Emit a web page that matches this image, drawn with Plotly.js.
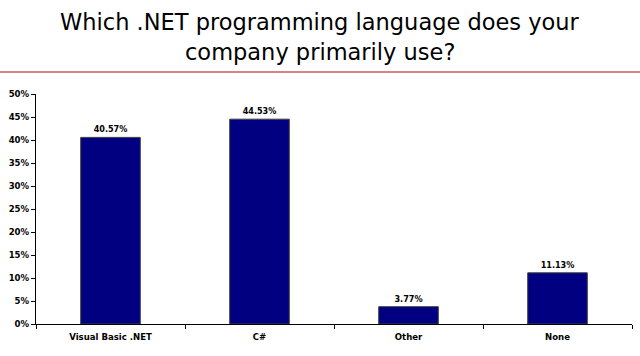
<!DOCTYPE html>
<html>
<head>
<meta charset="utf-8">
<script src="https://cdn.plot.ly/plotly-3.0.1.min.js"></script>
<style>html,body{margin:0;padding:0;background:#fff;}#chart{width:640px;height:356px;}</style>
</head>
<body>
<div id="chart"></div>
<script>
const categories = ["Visual Basic .NET", "C#", "Other", "None"];
const shares = [40.57, 44.53, 3.77, 11.13];
const titleLines = ["Which .NET programming language does your", "company primarily use?"];

const W = 640, H = 356;
const margin = {l: 36, r: 8, t: 94, b: 32};
const plotH = H - margin.t - margin.b;
const plotW = W - margin.l - margin.r;
const py = (px) => 1 + (margin.t - px) / plotH;
const pxX = (px) => (px - margin.l) / plotW;

const titleFont = {family: "DejaVu Sans", size: 22.5, color: "#000"};
const tickFont = {family: "DejaVu Sans Condensed", size: 9.5, color: "#000", weight: "bold"};

Plotly.newPlot("chart", [{
  type: "bar",
  x: categories,
  y: shares,
  marker: {color: "#000080", line: {color: "#404040", width: 1}},
  texttemplate: "%{y:.2f}%",
  textposition: "outside",
  cliponaxis: false,
  textfont: {family: "DejaVu Sans Condensed", size: 9, color: "#000", weight: "bold"},
  hoverinfo: "skip"
}], {
  width: W, height: H,
  margin: margin,
  paper_bgcolor: "#fff", plot_bgcolor: "#fff",
  bargap: 0.6,
  showlegend: false,
  annotations: [
    {text: titleLines[0], xref: "paper", yref: "paper", x: pxX(320), y: py(22), xanchor: "center", yanchor: "middle", showarrow: false, font: titleFont},
    {text: titleLines[1], xref: "paper", yref: "paper", x: pxX(320), y: py(52), xanchor: "center", yanchor: "middle", showarrow: false, font: titleFont}
  ],
  xaxis: {
    type: "category",
    showline: true, linecolor: "#000", linewidth: 1,
    ticks: "outside", tickson: "boundaries", ticklen: 4, tickcolor: "#000",
    ticklabelstandoff: 4,
    showgrid: false, zeroline: false,
    tickfont: tickFont
  },
  yaxis: {
    range: [0, 50], dtick: 5, ticksuffix: "%",
    showline: true, linecolor: "#000", linewidth: 1,
    ticks: "outside", ticklen: 4, tickcolor: "#000",
    showgrid: false, zeroline: false,
    tickfont: tickFont
  },
  shapes: [{type: "line", xref: "paper", yref: "paper",
            x0: pxX(0), x1: pxX(W), y0: py(72), y1: py(72),
            line: {color: "#d98585", width: 2}}]
}, {displayModeBar: false, staticPlot: true});
</script>
</body>
</html>
